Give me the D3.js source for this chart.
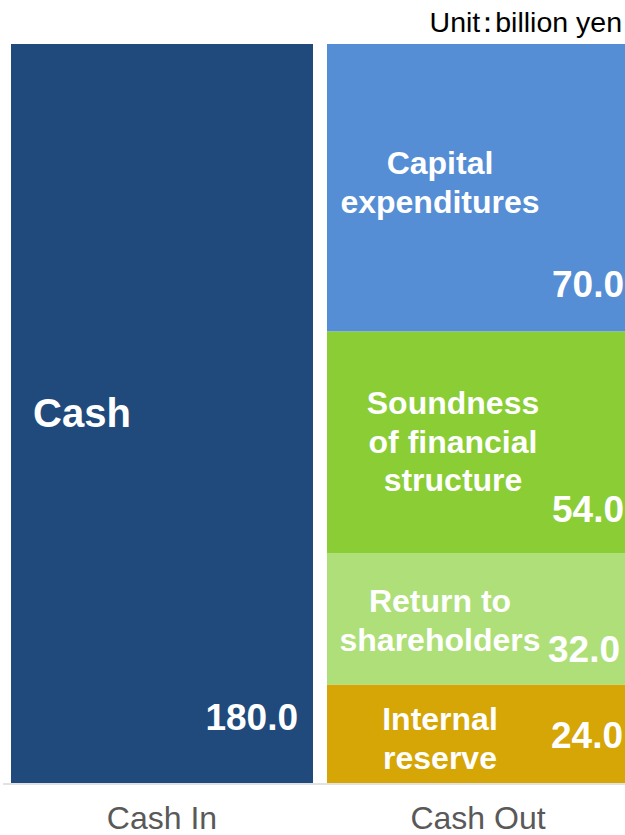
<!DOCTYPE html>
<html>
<head>
<meta charset="utf-8">
<script src="https://cdn.jsdelivr.net/npm/d3@7"></script>
<style>
  body { margin: 0; background: #fff; }
  svg { display: block; font-family: "Liberation Sans", Arial, sans-serif; }
</style>
</head>
<body>
<div id="chart"></div>
<script>
const categories = ["Cash In", "Cash Out"];
const cashInNames = ["Cash"];
const cashInValues = [180.0];
const cashOutNames = ["Internal reserve", "Return to shareholders", "Soundness of financial structure", "Capital expenditures"];
const cashOutValues = [24.0, 32.0, 54.0, 70.0];
const unitLabel = "Unit：billion yen";

const width = 625, height = 835;
const plotBottom = 783, plotTop = 44;

const svg = d3.select("#chart")
    .append("svg")
    .attr("width", width)
    .attr("height", height);

const x = d3.scaleBand()
    .domain(categories)
    .range([11, 629])
    .paddingInner(0.0443)
    .paddingOuter(0);

const y = d3.scaleLinear()
    .domain([0, 180])
    .range([plotBottom, plotTop]);

const colors = {
    "Cash": "#204a7b",
    "Internal reserve": "#d6a506",
    "Return to shareholders": "#aedf78",
    "Soundness of financial structure": "#8acd35",
    "Capital expenditures": "#558ed5"
};

// name label lines, offsets from segment top; value offset from segment bottom
const labelLayout = {
    "Cash": {lines: ["Cash"], left: 22, dy: 383, size: 40, vDy: -53, vRight: 15},
    "Internal reserve": {lines: ["Internal", "reserve"], cx: 113, dy: 46, vDy: -35, vRight: 6},
    "Return to shareholders": {lines: ["Return to", "shareholders"], cx: 113, dy: 59, vDy: -22, vRight: 9},
    "Soundness of financial structure": {lines: ["Soundness", "of financial", "structure"], cx: 126, dy: 83, vDy: -31, vRight: 5},
    "Capital expenditures": {lines: ["Capital", "expenditures"], cx: 113, dy: 130, vDy: -34, vRight: 5}
};

function stackSeries(cat, names, values) {
    let acc = 0;
    return names.map((n, i) => {
        const d = {cat: cat, name: n, value: values[i], y0: acc, y1: acc + values[i]};
        acc += values[i];
        return d;
    });
}

const segments = stackSeries("Cash In", cashInNames, cashInValues)
    .concat(stackSeries("Cash Out", cashOutNames, cashOutValues));

svg.selectAll("rect.seg")
    .data(segments)
    .enter()
    .append("rect")
    .attr("class", "seg")
    .attr("x", d => x(d.cat))
    .attr("y", d => y(d.y1))
    .attr("width", x.bandwidth())
    .attr("height", d => y(d.y0) - y(d.y1))
    .attr("fill", d => colors[d.name]);

// baseline
svg.append("line")
    .attr("x1", 3)
    .attr("x2", width)
    .attr("y1", plotBottom + 1)
    .attr("y2", plotBottom + 1)
    .attr("stroke", "#d9d9d9")
    .attr("stroke-width", 1.5);

// category labels
const xAxis = svg.append("g")
    .attr("transform", `translate(0,${plotBottom})`)
    .call(d3.axisBottom(x).tickSize(0).tickPadding(0));
xAxis.select(".domain").remove();
xAxis.selectAll("text")
    .attr("y", 46)
    .attr("dy", 0)
    .attr("fill", "#595959")
    .style("font-size", "32px")
    .style("font-family", "'Liberation Sans', Arial, sans-serif");

// segment name labels
segments.forEach(d => {
    const L = labelLayout[d.name];
    const segTop = y(d.y1);
    const segBottom = y(d.y0);
    const bx = x(d.cat);
    const t = svg.append("text")
        .attr("fill", "#fff")
        .attr("font-weight", "bold")
        .style("font-size", (L.size || 32) + "px");
    if (L.left != null) {
        t.attr("text-anchor", "start").attr("x", bx + L.left).attr("y", segTop + L.dy).text(L.lines[0]);
    } else {
        t.attr("text-anchor", "middle");
        L.lines.forEach((line, i) => {
            t.append("tspan")
                .attr("x", bx + L.cx)
                .attr("y", segTop + L.dy + i * 38.5)
                .text(line);
        });
    }
    svg.append("text")
        .attr("fill", "#fff")
        .attr("font-weight", "bold")
        .attr("text-anchor", "end")
        .style("font-size", "37px")
        .attr("x", bx + x.bandwidth() - L.vRight)
        .attr("y", segBottom + L.vDy)
        .text(d.value.toFixed(1));
});

// unit note, full-width colon pulled in with per-glyph dx
svg.append("text")
    .attr("x", 622)
    .attr("y", 32)
    .attr("text-anchor", "end")
    .attr("fill", "#000")
    .attr("dx", "0 0 0 0 -7 -7")
    .style("font-size", "28.5px")
    .text(unitLabel);
</script>
</body>
</html>
